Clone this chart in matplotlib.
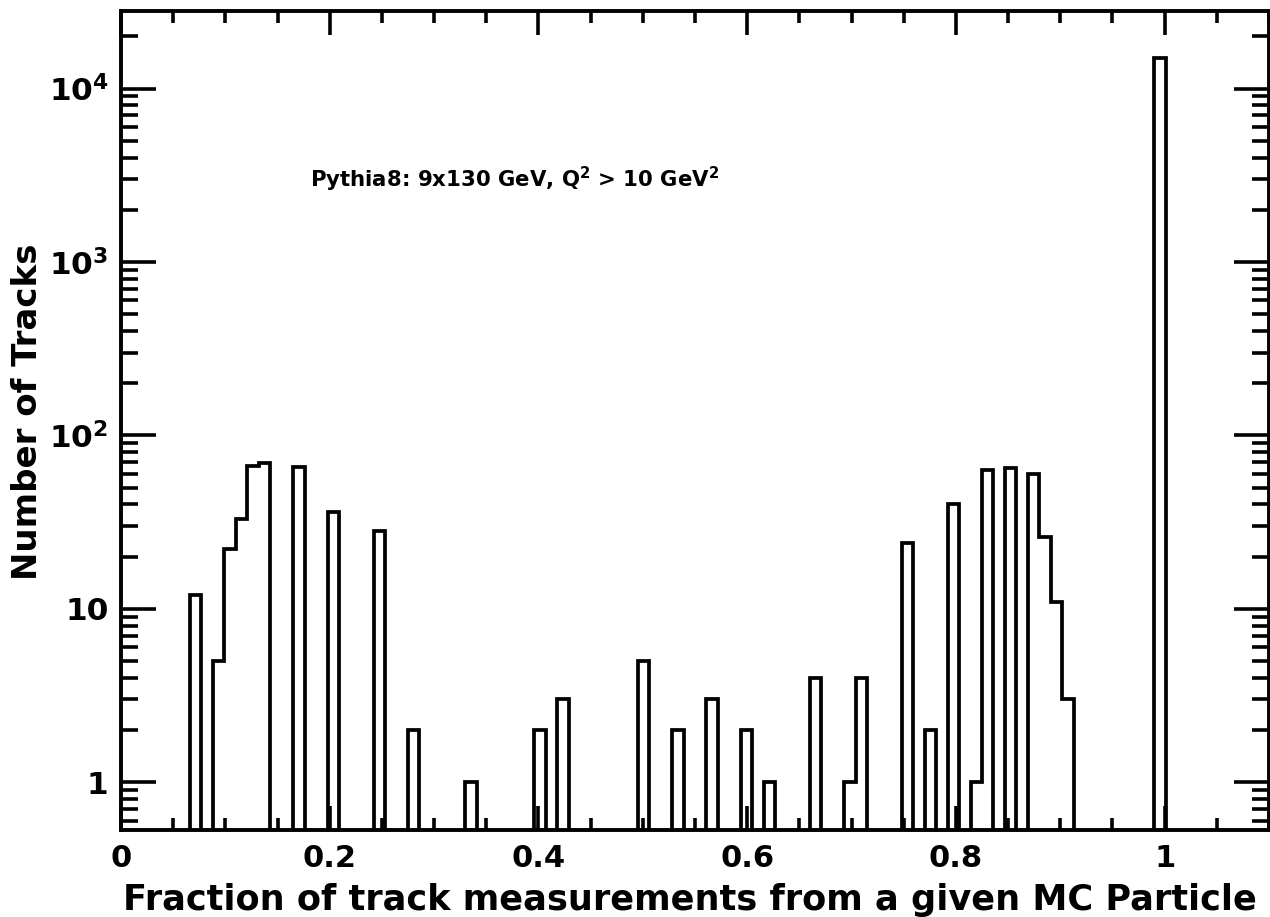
import numpy as np
import matplotlib
matplotlib.use("Agg")
from matplotlib import pyplot as plt
from matplotlib.ticker import FixedLocator, MultipleLocator, LogLocator, NullFormatter, FuncFormatter

# ROOT-like bold look (wide bold sans)
plt.rcParams['font.family'] = ['DejaVu Sans']
plt.rcParams['font.weight'] = 'bold'
plt.rcParams['mathtext.fontset'] = 'custom'
plt.rcParams['mathtext.rm'] = 'DejaVu Sans:bold'
plt.rcParams['mathtext.it'] = 'DejaVu Sans:bold'
plt.rcParams['mathtext.bf'] = 'DejaVu Sans:bold'

# histogram binning: 100 bins from 0 to 1.1
x_lo, x_hi, n_bins = 0.0, 1.1, 100

# filled bins (index -> number of tracks)
filled_bins = [6, 8, 9, 10, 11, 12, 15, 18, 22, 25, 30, 36, 38, 45, 48, 51, 54, 56,
               60, 63, 64, 68, 70, 72, 74, 75, 77, 79, 80, 81, 82, 90]
bin_counts = [12, 5, 22, 33, 67, 69, 66, 36, 28, 2, 1, 2, 3, 5, 2, 3, 2, 1,
              4, 1, 4, 24, 2, 40, 1, 63, 65, 60, 26, 11, 3, 15000]

y_ticks = [1, 10, 100, 1000, 10000]
x_ticks = [0, 0.2, 0.4, 0.6, 0.8, 1.0]
x_tick_labels = ['0', '0.2', '0.4', '0.6', '0.8', '1']

label_x = 'Fraction of track measurements from a given MC Particle'
label_y = 'Number of Tracks'
note = 'Pythia8: 9x130 GeV, Q$^{2}$ > 10 GeV$^{2}$'


edges = np.linspace(x_lo, x_hi, n_bins + 1)
counts = np.zeros(n_bins)
counts[filled_bins] = bin_counts
floor = 1e-3  # empty bins go below the frame, like ROOT
counts = np.where(counts > 0, counts, floor)

W, H = 1270, 917
fig = plt.figure(figsize=(W / 100, H / 100), dpi=100)
ax = fig.add_axes([121 / W, 1 - 830 / H, (1269 - 121) / W, (830 - 11) / H])

ax.stairs(counts, edges, baseline=floor, color='black', linewidth=2.7)

ax.set_yscale('log')
ax.set_xlim(x_lo, x_hi)
ax.set_ylim(0.53, 28000)

ax.xaxis.set_major_locator(FixedLocator(x_ticks))
ax.set_xticklabels(x_tick_labels)
ax.xaxis.set_minor_locator(MultipleLocator(0.05))
ax.yaxis.set_major_locator(FixedLocator(y_ticks))
ax.yaxis.set_minor_locator(LogLocator(base=10, subs=np.arange(2, 10)))
ax.yaxis.set_minor_formatter(NullFormatter())


def log_label(v, pos):
    if v < 5:
        return '1'
    if v < 50:
        return '10'
    return '$10^{%d}$' % int(round(np.log10(v)))


ax.yaxis.set_major_formatter(FuncFormatter(log_label))

for s in ax.spines.values():
    s.set_linewidth(2.8)

ax.tick_params(axis='both', which='both', direction='in', top=True, right=True, width=2.6)
ax.tick_params(axis='x', which='major', length=17, pad=10, labelsize=22)
ax.tick_params(axis='x', which='minor', length=8.5)
ax.tick_params(axis='y', which='major', length=25, pad=9, labelsize=22.5)
ax.tick_params(axis='y', which='minor', length=12.5)

fig.text(690 / W, 1 - 910 / H, label_x, ha='center', va='baseline', fontsize=25.3, fontweight='bold')
fig.text(28 / W, 1 - 412 / H, label_y, ha='center', va='center', rotation=90, fontsize=24.5, fontweight='bold')
fig.text(310 / W, 1 - 187 / H, note, ha='left', va='baseline', fontsize=15.3, fontweight='bold')

fig.savefig('out.png', dpi=100)
